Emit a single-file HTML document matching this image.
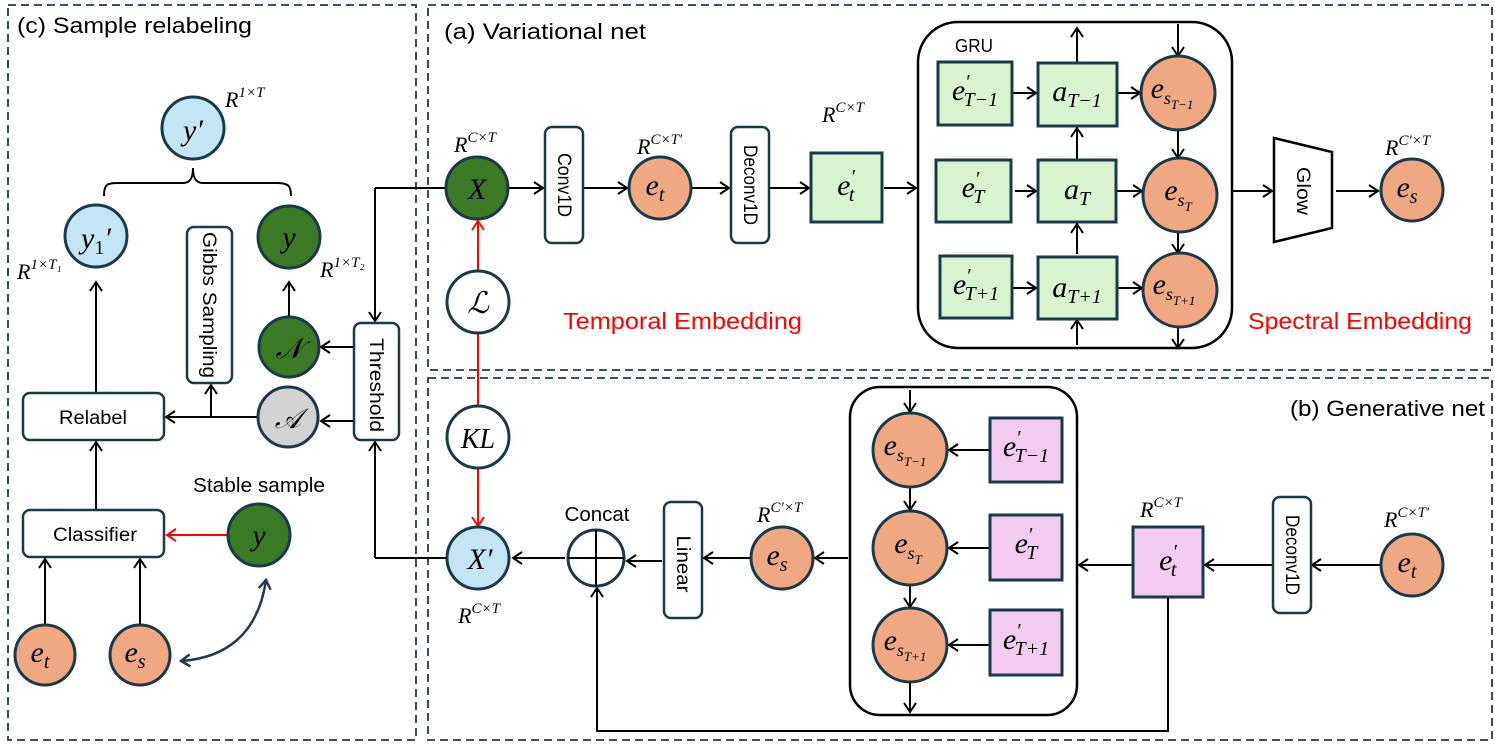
<!DOCTYPE html>
<html><head><meta charset="utf-8"><style>
html,body{margin:0;padding:0;background:#fff;}
svg{display:block;}
.m{font-family:"Liberation Serif","DejaVu Serif",serif;font-style:italic;fill:#000;}
.s{font-family:"Liberation Sans","DejaVu Sans",sans-serif;fill:#000;}
</style></head><body>
<svg width="1495" height="745" viewBox="0 0 1495 745" xmlns="http://www.w3.org/2000/svg">
<defs>
<marker id="a" markerWidth="14" markerHeight="14" refX="11" refY="7" orient="auto" markerUnits="userSpaceOnUse"><path d="M2,1 L11,7 L2,13" fill="none" stroke="#000" stroke-width="2"/></marker>
<marker id="d" markerWidth="14" markerHeight="14" refX="11" refY="7" orient="auto-start-reverse" markerUnits="userSpaceOnUse"><path d="M2,1 L11,7 L2,13" fill="none" stroke="#1f3b4d" stroke-width="2.5"/></marker>
<marker id="r" markerWidth="14" markerHeight="14" refX="11" refY="7" orient="auto" markerUnits="userSpaceOnUse"><path d="M2,1 L11,7 L2,13" fill="none" stroke="#f00" stroke-width="2"/></marker>
</defs>
<g fill="none" stroke="#1f3b4d" stroke-width="1.8" stroke-dasharray="8,5">
<rect x="8" y="5" width="408" height="735"/>
<rect x="428" y="5" width="1064" height="365"/>
<rect x="428" y="378" width="1064" height="362"/>
</g>
<g class="s" font-size="22">
<text x="17" y="33" textLength="235" lengthAdjust="spacingAndGlyphs">(c) Sample relabeling</text>
<text x="444" y="39" textLength="202" lengthAdjust="spacingAndGlyphs">(a) Variational net</text>
<text x="1290" y="416" textLength="195" lengthAdjust="spacingAndGlyphs">(b) Generative net</text>
<text x="563" y="329" font-size="23" style="fill:#f00" textLength="239" lengthAdjust="spacingAndGlyphs">Temporal Embedding</text>
<text x="1248" y="329" font-size="23" style="fill:#f00" textLength="224" lengthAdjust="spacingAndGlyphs">Spectral Embedding</text>
</g>

<!-- containers -->
<rect x="918" y="22" width="314" height="326" rx="40" fill="none" stroke="#000" stroke-width="2.5"/>
<text class="s" x="955" y="52" font-size="18" textLength="38" lengthAdjust="spacingAndGlyphs">GRU</text>
<rect x="850" y="387" width="227" height="328" rx="30" fill="none" stroke="#000" stroke-width="2.5"/>

<g stroke="#000" stroke-width="2" fill="none">
<path d="M104,196 C104,183 108,183 120,183 L183,183 C190,183 193,178 193,168 C193,178 196,183 203,183 L276,183 C288,183 291,185 291,196"/>
<line x1="96" y1="393" x2="96" y2="282" marker-end="url(#a)"/>
<line x1="289" y1="317" x2="289" y2="282" marker-end="url(#a)"/>
<line x1="258" y1="417" x2="166" y2="417" marker-end="url(#a)"/>
<line x1="211" y1="417" x2="211" y2="385" marker-end="url(#a)"/>
<line x1="354" y1="347" x2="321" y2="347" marker-end="url(#a)"/>
<line x1="354" y1="421" x2="321" y2="421" marker-end="url(#a)"/>
<line x1="96" y1="510" x2="96" y2="442" marker-end="url(#a)"/>
<line x1="45" y1="625" x2="45" y2="559" marker-end="url(#a)"/>
<line x1="140" y1="625" x2="140" y2="559" marker-end="url(#a)"/>
<line x1="446" y1="188" x2="375" y2="188"/>
<line x1="375" y1="188" x2="375" y2="321" marker-end="url(#a)"/>
<line x1="449" y1="558" x2="375" y2="558"/>
<line x1="375" y1="558" x2="375" y2="442" marker-end="url(#a)"/>
<line x1="509" y1="188" x2="543" y2="188" marker-end="url(#a)"/>
<line x1="584" y1="188" x2="627" y2="188" marker-end="url(#a)"/>
<line x1="692" y1="188" x2="729" y2="188" marker-end="url(#a)"/>
<line x1="770" y1="188" x2="809" y2="188" marker-end="url(#a)"/>
<line x1="884" y1="188" x2="916" y2="188" marker-end="url(#a)"/>
<line x1="1232" y1="191" x2="1272" y2="191" marker-end="url(#a)"/>
<line x1="1336" y1="191" x2="1378" y2="191" marker-end="url(#a)"/>
<line x1="1013" y1="93" x2="1036" y2="93" marker-end="url(#a)"/>
<line x1="1015" y1="191" x2="1036" y2="191" marker-end="url(#a)"/>
<line x1="1013" y1="288" x2="1036" y2="288" marker-end="url(#a)"/>
<line x1="1118" y1="93" x2="1140" y2="93" marker-end="url(#a)"/>
<line x1="1117" y1="191" x2="1142" y2="191" marker-end="url(#a)"/>
<line x1="1118" y1="288" x2="1142" y2="288" marker-end="url(#a)"/>
<line x1="1077" y1="62" x2="1077" y2="28" marker-end="url(#a)"/>
<line x1="1077" y1="159" x2="1077" y2="128" marker-end="url(#a)"/>
<line x1="1077" y1="254" x2="1077" y2="224" marker-end="url(#a)"/>
<line x1="1077" y1="345" x2="1077" y2="320" marker-end="url(#a)"/>
<line x1="1178" y1="24" x2="1178" y2="56" marker-end="url(#a)"/>
<line x1="1178" y1="130" x2="1178" y2="158" marker-end="url(#a)"/>
<line x1="1178" y1="232" x2="1178" y2="253" marker-end="url(#a)"/>
<line x1="1178" y1="327" x2="1178" y2="348" marker-end="url(#a)"/>
<line x1="1380" y1="565" x2="1312" y2="565" marker-end="url(#a)"/>
<line x1="1272" y1="565" x2="1205" y2="565" marker-end="url(#a)"/>
<line x1="1133" y1="565" x2="1079" y2="565" marker-end="url(#a)"/>
<line x1="990" y1="450" x2="949" y2="450" marker-end="url(#a)"/>
<line x1="990" y1="548" x2="949" y2="548" marker-end="url(#a)"/>
<line x1="990" y1="645" x2="949" y2="645" marker-end="url(#a)"/>
<line x1="910" y1="390" x2="910" y2="412" marker-end="url(#a)"/>
<line x1="910" y1="487" x2="910" y2="510" marker-end="url(#a)"/>
<line x1="910" y1="585" x2="910" y2="607" marker-end="url(#a)"/>
<line x1="910" y1="682" x2="910" y2="712" marker-end="url(#a)"/>
<line x1="848" y1="558" x2="815" y2="558" marker-end="url(#a)"/>
<line x1="750" y1="558" x2="704" y2="558" marker-end="url(#a)"/>
<line x1="662" y1="561" x2="627" y2="561" marker-end="url(#a)"/>
<line x1="565" y1="558" x2="513" y2="558" marker-end="url(#a)"/>
<path d="M1168,598 L1168,731 L597,731 L597,588" marker-end="url(#a)"/>
</g>
<path d="M181,661 C225,658 258,635 266,580" fill="none" stroke="#1f3b4d" stroke-width="2.5" marker-start="url(#d)" marker-end="url(#d)"/>
<g stroke="#f00" stroke-width="2">
<line x1="478" y1="270" x2="478" y2="221" marker-end="url(#r)"/>
<line x1="478" y1="333" x2="478" y2="406"/>
<line x1="478" y1="469" x2="478" y2="526" marker-end="url(#r)"/>
<line x1="227" y1="535" x2="167" y2="535" marker-end="url(#r)"/>
</g>

<g stroke="#1a3a4a" stroke-width="2.5" fill="#fff">
<rect x="187" y="227" width="45" height="156" rx="7"/>
<rect x="354" y="323" width="45" height="117" rx="7"/>
<rect x="23" y="393" width="141" height="47" rx="7"/>
<rect x="23" y="510" width="141" height="47" rx="7"/>
<rect x="545" y="127" width="38" height="116" rx="7"/>
<rect x="731" y="127" width="38" height="116" rx="7"/>
<rect x="664" y="502" width="38" height="116" rx="7"/>
<rect x="1273" y="497" width="38" height="116" rx="7"/>
<path d="M1274,138 L1332,152 L1332,228 L1274,242 Z" stroke="#000"/>
</g>
<g class="s" font-size="19" text-anchor="middle">
<text x="93" y="424" textLength="68" lengthAdjust="spacingAndGlyphs">Relabel</text>
<text x="95" y="541" textLength="84" lengthAdjust="spacingAndGlyphs">Classifier</text>
<text x="259" y="492" font-size="20" textLength="132" lengthAdjust="spacingAndGlyphs">Stable sample</text>
<text x="597" y="521" font-size="20" textLength="65" lengthAdjust="spacingAndGlyphs">Concat</text>
<text transform="translate(203,305) rotate(90)" textLength="146" lengthAdjust="spacingAndGlyphs">Gibbs Sampling</text>
<text transform="translate(370,385) rotate(90)" textLength="94" lengthAdjust="spacingAndGlyphs">Threshold</text>
<text transform="translate(558,185) rotate(90)" textLength="64" lengthAdjust="spacingAndGlyphs">Conv1D</text>
<text transform="translate(744,185) rotate(90)" textLength="80" lengthAdjust="spacingAndGlyphs">Deconv1D</text>
<text transform="translate(677,564) rotate(90)" textLength="57" lengthAdjust="spacingAndGlyphs">Linear</text>
<text transform="translate(1286,555) rotate(90)" textLength="80" lengthAdjust="spacingAndGlyphs">Deconv1D</text>
<text transform="translate(1297,191) rotate(90)" textLength="48" lengthAdjust="spacingAndGlyphs">Glow</text>
</g>

<g stroke="#1a3a4a" stroke-width="3" fill="#d9f2d0">
<rect x="811" y="153" width="71" height="69"/>
<rect x="938" y="62" width="74" height="63"/>
<rect x="1038" y="63" width="79" height="63"/>
<rect x="936" y="160" width="75" height="62"/>
<rect x="1038" y="160" width="78" height="62"/>
<rect x="940" y="256" width="72" height="62"/>
<rect x="1038" y="257" width="79" height="62"/>
</g>
<g stroke="#1a3a4a" stroke-width="3" fill="#f2ccee">
<rect x="990" y="418" width="72" height="64"/>
<rect x="990" y="515" width="72" height="65"/>
<rect x="990" y="610" width="72" height="65"/>
<rect x="1133" y="527" width="70" height="70"/>
</g>

<g stroke="#1a3a4a" stroke-width="3">
<circle cx="193" cy="128" r="31" fill="#c5e5f5"/>
<circle cx="96" cy="236" r="31" fill="#c5e5f5"/>
<circle cx="289" cy="237" r="31" fill="#3a7a24"/>
<circle cx="289" cy="347" r="30" fill="#3a7a24"/>
<circle cx="288" cy="417" r="30" fill="#d3d3d3"/>
<circle cx="259" cy="535" r="31" fill="#3a7a24"/>
<circle cx="45" cy="655" r="30" fill="#f0a882"/>
<circle cx="140" cy="655" r="30" fill="#f0a882"/>
<circle cx="477" cy="188" r="31" fill="#3a7a24"/>
<circle cx="478" cy="302" r="31" fill="#fff"/>
<circle cx="478" cy="437" r="31" fill="#fff"/>
<circle cx="478" cy="558" r="31" fill="#c5e5f5"/>
<circle cx="596" cy="558" r="28" fill="#fff"/>
<circle cx="660" cy="188" r="31" fill="#f0a882"/>
<circle cx="1178" cy="93" r="37" fill="#f0a882"/>
<circle cx="1180" cy="195" r="37" fill="#f0a882"/>
<circle cx="1180" cy="290" r="37" fill="#f0a882"/>
<circle cx="1412" cy="190" r="31" fill="#f0a882"/>
<circle cx="782" cy="558" r="31" fill="#f0a882"/>
<circle cx="910" cy="450" r="37" fill="#f0a882"/>
<circle cx="910" cy="548" r="37" fill="#f0a882"/>
<circle cx="910" cy="645" r="37" fill="#f0a882"/>
<circle cx="1412" cy="565" r="31" fill="#f0a882"/>
</g>
<g stroke="#000" stroke-width="2"><line x1="596" y1="530" x2="596" y2="586"/><line x1="568" y1="558" x2="624" y2="558"/></g>

<g class="m" font-size="30" text-anchor="middle">
<text x="193" y="140">y′</text>
<text x="96" y="248">y<tspan font-size="20" font-style="normal" dy="6">1</tspan><tspan dy="-6">′</tspan></text>
<text x="289" y="247">y</text>
<text x="289" y="358" font-size="28">𝒩</text>
<text x="288" y="428" font-size="28">𝒜</text>
<text x="259" y="545">y</text>
<text x="40" y="662">e<tspan font-size="20" dy="6">t</tspan></text>
<text x="135" y="662">e<tspan font-size="20" dy="6">s</tspan></text>
<text x="477" y="199">X</text>
<text x="478" y="313">ℒ</text>
<text x="478" y="448" font-size="28">KL</text>
<text x="480" y="569">X′</text>
<text x="655" y="195">e<tspan font-size="20" dy="6">t</tspan></text>
<text x="846" y="195">e<tspan font-size="20" dy="-12">′</tspan><tspan font-size="20" dx="-6" dy="18">t</tspan></text>
<text x="975" y="100">e<tspan font-size="20" dy="-12">′</tspan><tspan font-size="20" dx="-6" dy="18">T−1</tspan></text>
<text x="1077" y="101">a<tspan font-size="20" dy="6">T−1</tspan></text>
<text x="1172" y="98">e<tspan font-size="18" dy="6">s</tspan><tspan font-size="13" dy="5">T−1</tspan></text>
<text x="973" y="197">e<tspan font-size="20" dy="-12">′</tspan><tspan font-size="20" dx="-6" dy="18">T</tspan></text>
<text x="1077" y="199">a<tspan font-size="20" dy="6">T</tspan></text>
<text x="1178" y="200">e<tspan font-size="18" dy="6">s</tspan><tspan font-size="13" dy="5">T</tspan></text>
<text x="976" y="294">e<tspan font-size="20" dy="-12">′</tspan><tspan font-size="20" dx="-6" dy="18">T+1</tspan></text>
<text x="1077" y="297">a<tspan font-size="20" dy="6">T+1</tspan></text>
<text x="1174" y="294">e<tspan font-size="18" dy="6">s</tspan><tspan font-size="13" dy="5">T+1</tspan></text>
<text x="1407" y="197">e<tspan font-size="20" dy="6">s</tspan></text>
<text x="777" y="565">e<tspan font-size="20" dy="6">s</tspan></text>
<text x="905" y="455">e<tspan font-size="18" dy="6">s</tspan><tspan font-size="13" dy="5">T−1</tspan></text>
<text x="908" y="553">e<tspan font-size="18" dy="6">s</tspan><tspan font-size="13" dy="5">T</tspan></text>
<text x="905" y="650">e<tspan font-size="18" dy="6">s</tspan><tspan font-size="13" dy="5">T+1</tspan></text>
<text x="1026" y="456">e<tspan font-size="20" dy="-12">′</tspan><tspan font-size="20" dx="-6" dy="18">T−1</tspan></text>
<text x="1026" y="553">e<tspan font-size="20" dy="-12">′</tspan><tspan font-size="20" dx="-6" dy="18">T</tspan></text>
<text x="1026" y="649">e<tspan font-size="20" dy="-12">′</tspan><tspan font-size="20" dx="-6" dy="18">T+1</tspan></text>
<text x="1168" y="570">e<tspan font-size="20" dy="-12">′</tspan><tspan font-size="20" dx="-6" dy="18">t</tspan></text>
<text x="1407" y="572">e<tspan font-size="20" dy="6">t</tspan></text>
</g>
<g class="m" font-size="22">
<text x="225" y="107">R<tspan font-size="15" dy="-10">1×T</tspan></text>
<text x="17" y="279">R<tspan font-size="15" dy="-10">1×T₁</tspan></text>
<text x="320" y="277">R<tspan font-size="15" dy="-10">1×T₂</tspan></text>
<text x="454" y="152">R<tspan font-size="15" dy="-10">C×T</tspan></text>
<text x="637" y="154">R<tspan font-size="15" dy="-10">C×T′</tspan></text>
<text x="822" y="122">R<tspan font-size="15" dy="-10">C×T</tspan></text>
<text x="1385" y="155">R<tspan font-size="15" dy="-10">C′×T</tspan></text>
<text x="757" y="522">R<tspan font-size="15" dy="-10">C′×T</tspan></text>
<text x="458" y="623">R<tspan font-size="15" dy="-10">C×T</tspan></text>
<text x="1140" y="517">R<tspan font-size="15" dy="-10">C×T</tspan></text>
<text x="1384" y="527">R<tspan font-size="15" dy="-10">C×T′</tspan></text>
</g>
</svg>
</body></html>
